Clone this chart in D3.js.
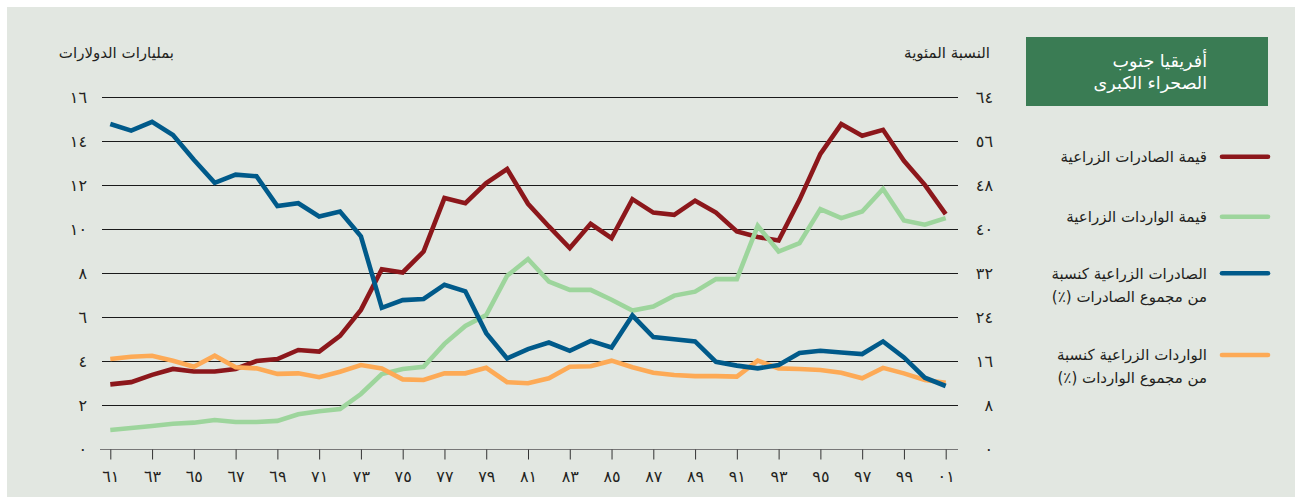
<!DOCTYPE html>
<meta charset="utf-8">
<style>
body { margin: 0; background: #fff; }
svg { display: block; }
text { font-family: "DejaVu Sans", "Noto Sans", sans-serif; fill: #231f20; }
.rtl { direction: rtl; unicode-bidi: embed; }
</style>
<svg width="1303" height="504"></svg>
<script src="https://d3js.org/d3.v7.min.js"></script>
<script>

var years = [1961,1962,1963,1964,1965,1966,1967,1968,1969,1970,
  1971,1972,1973,1974,1975,1976,1977,1978,1979,1980,
  1981,1982,1983,1984,1985,1986,1987,1988,1989,1990,
  1991,1992,1993,1994,1995,1996,1997,1998,1999,2000,2001];

// billions of dollars (left axis)
var exportValue = [2.95,3.05,3.38,3.65,3.53,3.53,3.65,4.01,4.10,4.51,
  4.44,5.15,6.33,8.18,8.03,8.98,11.41,11.18,12.09,12.73,
  11.15,10.12,9.14,10.24,9.59,11.36,10.75,10.65,11.29,10.75,
  9.89,9.64,9.48,11.33,13.42,14.77,14.24,14.51,13.10,12.01,10.68];
var importValue = [0.88,0.97,1.06,1.16,1.21,1.33,1.24,1.24,1.29,1.59,
  1.73,1.83,2.51,3.42,3.65,3.75,4.79,5.60,6.10,7.88,
  8.64,7.62,7.24,7.24,6.79,6.30,6.48,6.98,7.16,7.73,
  7.73,10.15,8.98,9.36,10.91,10.50,10.80,11.82,10.39,10.20,10.50];

// percent (right axis)
var exportShare = [59.1,57.9,59.5,57.1,52.6,48.4,49.9,49.6,44.2,44.7,
  42.3,43.2,38.7,25.7,27.1,27.3,29.9,28.7,21.1,16.5,
  18.2,19.4,17.9,19.7,18.5,24.3,20.4,20.0,19.6,15.9,
  15.2,14.7,15.3,17.5,17.9,17.6,17.3,19.6,16.7,13.0,11.5];
var importShare = [16.4,16.8,17.0,16.1,15.0,17.0,14.9,14.7,13.7,13.8,
  13.1,14.1,15.3,14.7,12.7,12.6,13.8,13.8,14.8,12.2,
  12.0,12.9,15.0,15.1,16.1,14.9,13.9,13.5,13.3,13.3,
  13.2,16.1,14.7,14.6,14.4,13.9,12.9,14.8,13.8,12.6,12.1];

var leftTicks = [0,2,4,6,8,10,12,14,16];
var leftLabels = ["٠","٢","٤","٦","٨","١٠","١٢","١٤","١٦"];
var rightTicks = [0,8,16,24,32,40,48,56,64];
var rightLabels = ["٠","٨","١٦","٢٤","٣٢","٤٠","٤٨","٥٦","٦٤"];
var xTicks = [1961,1963,1965,1967,1969,1971,1973,1975,1977,1979,1981,1983,1985,1987,1989,1991,1993,1995,1997,1999,2001];
var xLabels = ["٦١","٦٣","٦٥","٦٧","٦٩","٧١","٧٣","٧٥","٧٧","٧٩","٨١","٨٣","٨٥","٨٧","٨٩","٩١","٩٣","٩٥","٩٧","٩٩","٠١"];

var leftTitle = "بمليارات الدولارات";
var rightTitle = "النسبة المئوية";
var regionTitle = ["أفريقيا جنوب", "الصحراء الكبرى"];

var seriesNames = [
  ["قيمة الصادرات الزراعية"],
  ["قيمة الواردات الزراعية"],
  ["الصادرات الزراعية كنسبة", "من مجموع الصادرات (٪)"],
  ["الواردات الزراعية كنسبة", "من مجموع الواردات (٪)"]
];
var colors = ["#8c171b", "#9dd59c", "#005a8a", "#fdaa56"];

var svg = d3.select("svg");

svg.append("rect")
    .attr("x", 7).attr("y", 7)
    .attr("width", 1288).attr("height", 490)
    .attr("fill", "#e2e7e1");

var x = d3.scaleLinear().domain([1961, 2001]).range([110.3, 945.7]);
var yL = d3.scaleLinear().domain([0, 16]).range([449.3, 97]);
var yR = d3.scaleLinear().domain([0, 64]).range([449.3, 97]);

// gridlines
svg.append("g")
  .selectAll("line")
  .data(leftTicks.filter(function(d) { return d > 0; }))
  .enter().append("line")
    .attr("x1", 102).attr("x2", 958)
    .attr("y1", function(d) { return Math.round(yL(d)) + 0.5; })
    .attr("y2", function(d) { return Math.round(yL(d)) + 0.5; })
    .attr("stroke", "#1a1a1a")
    .attr("stroke-width", 1.1);

// x axis
var xAxis = svg.append("g")
    .attr("transform", "translate(0," + (Math.round(yL(0)) + 0.5) + ")")
    .call(d3.axisBottom(x).tickValues(xTicks).tickSize(10).tickPadding(11)
      .tickFormat(function(d, i) { return xLabels[i]; }));
xAxis.select(".domain").attr("d", "M100,0H958").attr("stroke", "#777");
xAxis.selectAll(".tick line").attr("stroke", "#333");
xAxis.selectAll("text").attr("font-size", 16).attr("font-family", null).style("fill", "#231f20");

// left axis labels
svg.append("g")
  .selectAll("text")
  .data(leftTicks)
  .enter().append("text")
    .attr("x", 87)
    .attr("y", function(d) { return yL(d); })
    .attr("dy", "0.35em")
    .attr("text-anchor", "end")
    .attr("font-size", 16)
    .text(function(d, i) { return leftLabels[i]; });

// right axis labels
svg.append("g")
  .selectAll("text")
  .data(rightTicks)
  .enter().append("text")
    .attr("x", 993)
    .attr("y", function(d) { return yR(d); })
    .attr("dy", "0.35em")
    .attr("text-anchor", "end")
    .attr("font-size", 16)
    .text(function(d, i) { return rightLabels[i]; });

svg.append("text")
    .attr("class", "rtl")
    .attr("x", 174).attr("y", 58)
    .attr("text-anchor", "start")
    .attr("font-size", 15)
    .text(leftTitle);

svg.append("text")
    .attr("class", "rtl")
    .attr("x", 990).attr("y", 58)
    .attr("text-anchor", "start")
    .attr("font-size", 15)
    .text(rightTitle);

// lines
var lineL = d3.line()
    .x(function(d, i) { return x(years[i]); })
    .y(function(d) { return yL(d); });
var lineR = d3.line()
    .x(function(d, i) { return x(years[i]); })
    .y(function(d) { return yR(d); });

var drawn = [
  {values: exportValue, line: lineL, color: colors[0]},
  {values: importValue, line: lineL, color: colors[1]},
  {values: importShare, line: lineR, color: colors[3]},
  {values: exportShare, line: lineR, color: colors[2]}
];

svg.append("g")
  .selectAll("path")
  .data(drawn)
  .enter().append("path")
    .attr("d", function(d) { return d.line(d.values); })
    .attr("fill", "none")
    .attr("stroke", function(d) { return d.color; })
    .attr("stroke-width", 4.6)
    .attr("stroke-linejoin", "miter")
    .attr("stroke-linecap", "butt");

// legend
svg.append("rect")
    .attr("x", 1026).attr("y", 37)
    .attr("width", 242).attr("height", 69)
    .attr("fill", "#3a7c54");

svg.append("g")
  .selectAll("text")
  .data(regionTitle)
  .enter().append("text")
    .attr("class", "rtl")
    .attr("x", 1207)
    .attr("y", function(d, i) { return 61 + i * 22; })
    .attr("dy", "0.35em")
    .attr("text-anchor", "start")
    .attr("font-size", 17.5)
    .style("fill", "#fff")
    .text(function(d) { return d; });

var legendY = [156.7, 216.7, 273.3, 355];

var items = svg.append("g")
  .selectAll("g")
  .data(seriesNames)
  .enter().append("g")
    .attr("transform", function(d, i) { return "translate(0," + legendY[i] + ")"; });

items.append("line")
    .attr("x1", 1222).attr("x2", 1268)
    .attr("stroke", function(d, i) { return colors[i]; })
    .attr("stroke-width", 4.6)
    .attr("stroke-linecap", "round");

items.selectAll("text")
  .data(function(d) { return d; })
  .enter().append("text")
    .attr("class", "rtl")
    .attr("x", 1207)
    .attr("y", function(d, i) { return i * 23; })
    .attr("dy", "0.35em")
    .attr("text-anchor", "start")
    .attr("font-size", 15)
    .text(function(d) { return d; });

</script>
</html>
